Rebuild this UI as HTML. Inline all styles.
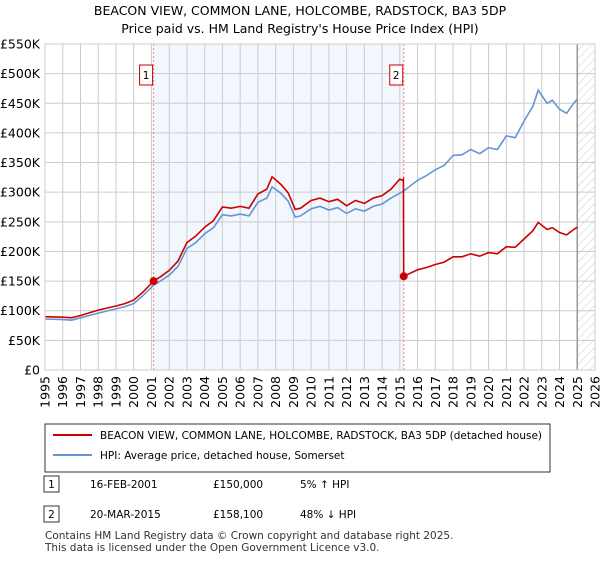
<!DOCTYPE html>
<html><head><meta charset="utf-8"><style>
body{margin:0;background:#fff;font-family:"Liberation Sans","DejaVu Sans",sans-serif;}
svg text{font-family:"DejaVu Sans","Liberation Sans",sans-serif;}
</style></head><body>
<svg id="chart" width="600" height="560" xmlns="http://www.w3.org/2000/svg">
<defs><pattern id="hatch" width="6" height="6" patternUnits="userSpaceOnUse" patternTransform="rotate(45)"><line x1="0" y1="0" x2="0" y2="6" stroke="#ccc" stroke-width="1"/></pattern></defs>
<text x="300" y="15" text-anchor="middle" font-size="12.5">BEACON VIEW, COMMON LANE, HOLCOMBE, RADSTOCK, BA3 5DP</text>
<text x="300" y="33" text-anchor="middle" font-size="12.5">Price paid vs. HM Land Registry's House Price Index (HPI)</text>
<g id="plot"></g>
<g>
<rect x="45" y="424" width="505" height="48" fill="#fff" stroke="#333"/>
<line x1="53" y1="435" x2="92" y2="435" stroke="#cc0000" stroke-width="2"/>
<text x="100" y="439" font-size="10.5">BEACON VIEW, COMMON LANE, HOLCOMBE, RADSTOCK, BA3 5DP (detached house)</text>
<line x1="53" y1="455" x2="92" y2="455" stroke="#6495d6" stroke-width="2"/>
<text x="100" y="459" font-size="10.5">HPI: Average price, detached house, Somerset</text>
</g>
<g font-size="10.5">
<rect x="44" y="476" width="15" height="16" fill="#fff" stroke="#333"/><text x="51.5" y="488" text-anchor="middle">1</text>
<text x="90" y="488">16-FEB-2001</text><text x="213" y="488">£150,000</text><text x="300" y="488">5% ↑ HPI</text>
<rect x="44" y="506" width="15" height="16" fill="#fff" stroke="#333"/><text x="51.5" y="518" text-anchor="middle">2</text>
<text x="90" y="518">20-MAR-2015</text><text x="213" y="518">£158,100</text><text x="300" y="518">48% ↓ HPI</text>
</g>
<text x="45" y="539" font-size="10.5" fill="#333">Contains HM Land Registry data © Crown copyright and database right 2025.</text>
<text x="45" y="551" font-size="10.5" fill="#333">This data is licensed under the Open Government Licence v3.0.</text>
</svg>
<script>
const hpiYears=[1995,1996,1996.5,1997,1998,1999,1999.5,2000,2000.5,2001.12,2001.5,2002,2002.5,2003,2003.5,2004,2004.5,2005,2005.5,2006,2006.5,2007,2007.5,2007.8,2008.3,2008.7,2009.1,2009.4,2010,2010.5,2011,2011.5,2012,2012.5,2013,2013.5,2014,2014.5,2015.22,2016,2016.5,2017,2017.5,2018,2018.5,2019,2019.5,2020,2020.5,2021,2021.5,2022,2022.5,2022.8,2023.3,2023.6,2024,2024.4,2024.8,2025.0];
const hpiValues=[86,85,84,88,96,103,107,112,125,143,150,160,175,205,215,230,240,262,260,263,260,283,290,309,298,285,258,260,272,276,270,274,264,272,268,276,280,290,302,320,328,338,345,362,363,372,365,375,372,395,392,420,445,472,450,455,440,433,450,457];
const redYears=[1995,1996,1996.5,1997,1998,1999,1999.5,2000,2000.5,2001.12,2001.5,2002,2002.5,2003,2003.5,2004,2004.5,2005,2005.5,2006,2006.5,2007,2007.5,2007.8,2008.3,2008.7,2009.1,2009.4,2010,2010.5,2011,2011.5,2012,2012.5,2013,2013.5,2014,2014.5,2015.0,2015.15,2015.2,2015.22,2016,2016.5,2017,2017.5,2018,2018.5,2019,2019.5,2020,2020.5,2021,2021.5,2022,2022.5,2022.8,2023.3,2023.6,2024,2024.4,2024.8,2025.0];
const redValues=[90,89,88,92,101,108,112,118,131,150,157,168,184,215,226,241,252,275,273,276,273,297,305,326,313,299,271,273,286,290,284,288,277,286,281,290,294,305,322,320,322,158.1,169,173,178,182,191,191,196,192,198,196,208,207,221,235,249,237,240,232,228,237,241];
const saleYears=[2001.12,2015.22];
const saleValues=[150,158.1];
const saleLabels=["1","2"];
const yTicks=[0,50,100,150,200,250,300,350,400,450,500,550];
const yTickLabels=["£0","£50K","£100K","£150K","£200K","£250K","£300K","£350K","£400K","£450K","£500K","£550K"];
const xTicks=[1995,1996,1997,1998,1999,2000,2001,2002,2003,2004,2005,2006,2007,2008,2009,2010,2011,2012,2013,2014,2015,2016,2017,2018,2019,2020,2021,2022,2023,2024,2025,2026];

const X0=45,X1=595,Y0=370,Y1=44;
const x=t=>X0+(t-1995)/(2026-1995)*(X1-X0);
const y=v=>Y0-v/550*(Y0-Y1);
const g=document.getElementById('plot');
const NS='http://www.w3.org/2000/svg';
function mk(tag,attrs){const e=document.createElementNS(NS,tag);for(const k in attrs)e.setAttribute(k,attrs[k]);g.appendChild(e);return e;}

let e=mk('rect',{x:x(saleYears[0]),y:Y1,width:x(saleYears[1])-x(saleYears[0]),height:Y0-Y1,fill:'#eef3fc',opacity:0.75});


e=mk('rect',{x:x(2025),y:Y1,width:X1-x(2025),height:Y0-Y1,fill:'url(#hatch)'});


yTicks.forEach((v,i)=>{
 const l=mk('line',{x1:X0,x2:X1,y1:y(v),y2:y(v),stroke:'#ccc'});
 
 
 const t=mk('text',{x:X0-5,y:y(v)+4.5,'text-anchor':'end','font-size':'12.5'});
 t.textContent=yTickLabels[i];
 
 
});
xTicks.forEach(yr=>{
 const l=mk('line',{x1:x(yr),x2:x(yr),y1:Y1,y2:Y0,stroke:'#ccc'});
 
 
 const t=mk('text',{x:0,y:0,'text-anchor':'end','font-size':'12.5',transform:`translate(${x(yr)+4.5},${Y0+6}) rotate(-90)`});
 t.textContent=yr;
 
 
});
e=mk('line',{x1:x(2025),x2:x(2025),y1:Y1,y2:Y0,stroke:'#999','stroke-width':1.5});


saleYears.forEach((s,i)=>{
 const l=mk('line',{x1:x(s),x2:x(s),y1:Y1,y2:Y0,stroke:'#f08080','stroke-dasharray':'2,2'});
 
 
 const r=mk('rect',{x:x(s)-14,y:65,width:13,height:20,fill:'#fff',stroke:'#cc0000'});
 
 
 const t=mk('text',{x:x(s)-7.5,y:79,'text-anchor':'middle','font-size':'10.5'});
 t.textContent=saleLabels[i];
 
 
});
e=mk('path',{d:hpiYears.map((t,i)=>(i?'L':'M')+x(t).toFixed(1)+','+y(hpiValues[i]).toFixed(1)).join(''),fill:'none',stroke:'#6495d6','stroke-width':1.6});


e=mk('path',{d:redYears.map((t,i)=>(i?'L':'M')+x(t).toFixed(1)+','+y(redValues[i]).toFixed(1)).join(''),fill:'none',stroke:'#cc0000','stroke-width':1.6});


saleYears.forEach((s,i)=>{
 const c=mk('circle',{cx:x(s),cy:y(saleValues[i]),r:4,fill:'#cc0000'});
 
 
});
e=mk('rect',{x:X0,y:Y1,width:X1-X0,height:Y0-Y1,fill:'none',stroke:'#ccc'});


</script>
</body></html>
